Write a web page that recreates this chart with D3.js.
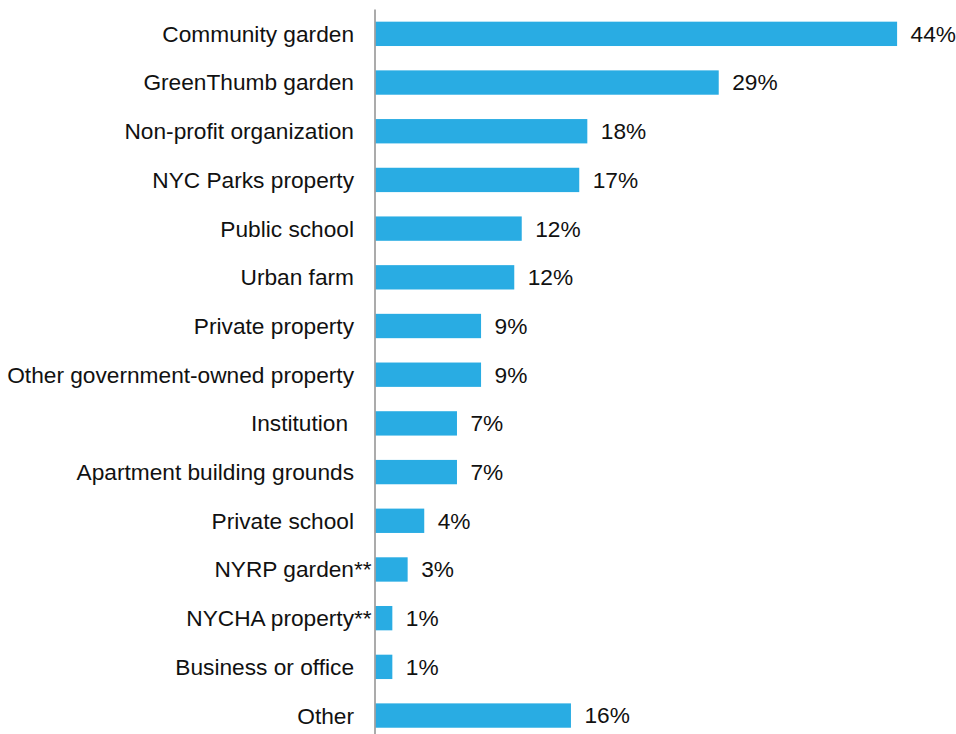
<!DOCTYPE html>
<html>
<head>
<meta charset="utf-8">
<script src="https://cdn.jsdelivr.net/npm/d3@7"></script>
<style>
  html, body { margin: 0; padding: 0; background: #fff; }
  svg text { font-family: "Liberation Sans", Arial, Helvetica, sans-serif; fill: #111; }
</style>
</head>
<body>
<svg id="chart" width="956" height="734"></svg>
<script>
// Data
const categories = [
  "Community garden", "GreenThumb garden", "Non-profit organization", "NYC Parks property",
  "Public school", "Urban farm", "Private property", "Other government-owned property",
  "Institution", "Apartment building grounds", "Private school", "NYRP garden",
  "NYCHA property", "Business or office", "Other"
];
const suffixes = ["", "", "", "", "", "", "", "", "", "", "", "**", "**", "", ""];
const values = [43.98, 28.94, 17.86, 17.18, 12.33, 11.70, 8.9, 8.9, 6.87, 6.87, 4.11, 2.71, 1.42, 1.42, 16.48];
const valueLabels = ["44%", "29%", "18%", "17%", "12%", "12%", "9%", "9%", "7%", "7%", "4%", "3%", "1%", "1%", "16%"];

const rows = categories.map((c, i) => ({ c, s: suffixes[i], v: values[i], l: valueLabels[i] }));

const svg = d3.select("#chart");
const x0 = 375.5;
const x = d3.scaleLinear().domain([0, 45]).range([x0, x0 + 45 * 11.86]);
const y = d3.scaleBand().domain(categories).range([9.5, 739.9]).paddingInner(0.5).paddingOuter(0.25);

const fontSize = 22.7;

// bars
svg.append("g").selectAll("rect").data(rows).join("rect")
  .attr("x", x(0))
  .attr("y", d => y(d.c))
  .attr("width", d => x(d.v) - x(0))
  .attr("height", y.bandwidth())
  .attr("fill", "#29ACE3");

// axis line (y axis without ticks)
const yAxis = d3.axisLeft(y).tickSize(0).tickFormat("");
const ax = svg.append("g").attr("transform", `translate(${x0 - 0.5},0)`).call(yAxis);
ax.select(".domain").attr("stroke", "#8f8f8f").attr("stroke-width", 1.5)
  .attr("d", `M0,9.5V734`);

// category labels
const labelX = 354;
const lab = svg.append("g").selectAll("g").data(rows).join("g")
  .attr("transform", d => `translate(0,${y(d.c) + y.bandwidth() / 2})`);
lab.append("text")
  .attr("x", d => d.c === "Institution" ? labelX - 6 : labelX)
  .attr("dy", "0.35em")
  .attr("text-anchor", "end")
  .style("font-size", fontSize + "px")
  .text(d => d.c);
lab.filter(d => d.s).append("text")
  .attr("x", labelX)
  .attr("dy", "0.35em")
  .attr("text-anchor", "start")
  .style("font-size", fontSize + "px")
  .text(d => d.s);

// value labels
svg.append("g").selectAll("text").data(rows).join("text")
  .attr("x", d => x(d.v) + 13.5)
  .attr("y", d => y(d.c) + y.bandwidth() / 2)
  .attr("dy", "0.35em")
  .style("font-size", fontSize + "px")
  .text(d => d.l);
</script>
</body>
</html>
